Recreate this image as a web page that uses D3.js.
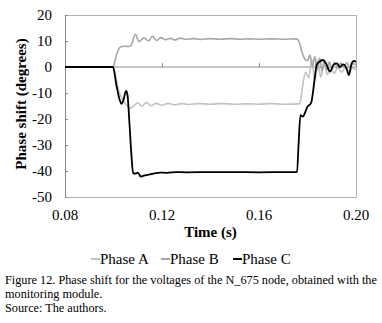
<!DOCTYPE html>
<html>
<head>
<meta charset="utf-8">
<script src="https://cdn.jsdelivr.net/npm/d3@7"></script>
<style>
  body { margin: 0; background: #fff; }
  text { font-family: "Liberation Serif", "Times New Roman", serif; fill: #000; }
</style>
</head>
<body>
<div id="phase_shift_chart"></div>
<script>
// values
var timeA = [0.080, 0.0998, 0.1010, 0.1019, 0.1039, 0.1060, 0.1068, 0.1085, 0.1100, 0.1118, 0.1135, 0.1155, 0.1175, 0.1200, 0.1225, 0.1250, 0.1280, 0.1310, 0.1350, 0.1400, 0.1450, 0.1500, 0.1550, 0.1600, 0.1650, 0.1700, 0.1765, 0.1772, 0.1782, 0.1792, 0.1805, 0.1818, 0.1830, 0.1842, 0.1855, 0.1868, 0.1882, 0.1895, 0.1910, 0.1925, 0.1940, 0.1955, 0.1970, 0.1985, 0.2000];
var phaseA = [0, 0, -4, -8.2, -12.8, -15.2, -15.9, -14.8, -13.8, -15.0, -13.6, -14.9, -14.0, -14.7, -14.0, -14.5, -14.1, -14.4, -14.1, -14.3, -14.1, -14.3, -14.2, -14.3, -14.1, -14.3, -14.2, -12.5, -6, -2, -4.2, 2.7, -5, 2.7, -4, 1.5, -3, 0.5, -2.5, 0, -2, -0.5, -1.5, -0.5, -1];

var timeB = [0.080, 0.0998, 0.1005, 0.1015, 0.1030, 0.1045, 0.1062, 0.1072, 0.1090, 0.1105, 0.1125, 0.1145, 0.1160, 0.1178, 0.1195, 0.1215, 0.1235, 0.1255, 0.1275, 0.1300, 0.1330, 0.1360, 0.1400, 0.1440, 0.1480, 0.1520, 0.1560, 0.1600, 0.1650, 0.1700, 0.1755, 0.1765, 0.1778, 0.1790, 0.1800, 0.1810, 0.1820, 0.1830, 0.1840, 0.1850, 0.1860, 0.1870, 0.1880, 0.1890, 0.1900, 0.1912, 0.1925, 0.1937, 0.1950, 0.1962, 0.1975, 0.1988, 0.2000];
var phaseB = [0, 0, 2, 5.5, 7.8, 8, 7.9, 8.2, 12.6, 9.8, 11.2, 10.1, 11.8, 10.2, 11.3, 10.5, 11.0, 10.4, 11.1, 10.6, 10.9, 10.6, 10.9, 10.7, 10.9, 10.7, 10.8, 10.7, 10.8, 10.7, 10.8, 9.8, 5.5, 3.0, 2.4, 4.6, 0.2, 4.0, -1.0, 3.4, -1.5, 2.8, -1.2, 2.0, -0.8, 1.8, -0.5, 1.5, 0.0, 1.6, -0.4, 1.2, 1.0];

var timeC = [0.080, 0.0998, 0.1012, 0.1025, 0.1033, 0.1040, 0.1052, 0.1058, 0.1066, 0.1074, 0.1081, 0.1092, 0.1101, 0.1112, 0.1125, 0.1140, 0.1151, 0.1170, 0.1192, 0.1220, 0.1260, 0.1300, 0.1400, 0.1500, 0.1600, 0.1700, 0.1757, 0.1763, 0.1771, 0.1780, 0.1800, 0.1815, 0.1829, 0.1838, 0.1849, 0.1862, 0.1876, 0.1893, 0.1907, 0.1921, 0.1934, 0.1946, 0.1961, 0.1971, 0.1982, 0.1991, 0.2000];
var phaseC = [0, 0, -7, -12.5, -14.2, -13, -9.2, -11, -22, -34, -40.8, -41, -40.6, -42.2, -41.8, -41.5, -41.3, -40.9, -40.6, -40.7, -40.4, -40.5, -40.4, -40.4, -40.5, -40.4, -40.4, -30, -18.5, -19.1, -15.3, -13.8, -5, 0.8, 2, 2.7, 1.4, -1.8, 0.8, 1.4, 0, 1, -0.5, -3.1, 1.4, 2.3, 2];

var xTicks = [0.08, 0.12, 0.16, 0.20];
var yTicks = [20, 10, 0, -10, -20, -30, -40, -50];
var seriesNames = ["Phase A", "Phase B", "Phase C"];
var captionLines = [
  "Figure 12. Phase shift for the voltages of the N_675 node, obtained with the",
  "monitoring module.",
  "Source: The authors."
];

var margin = {left: 65, right: 26, top: 15, bottom: 126};
var totalW = 382, totalH = 323;
var width = totalW - margin.left - margin.right;
var height = totalH - margin.top - margin.bottom;

var svg = d3.select("#phase_shift_chart").append("svg")
    .attr("width", totalW)
    .attr("height", totalH);

var g = svg.append("g")
    .attr("transform", "translate(" + margin.left + "," + margin.top + ")");

var x = d3.scaleLinear().domain([0.08, 0.20]).range([0, width]);
var y = d3.scaleLinear().domain([-50, 20]).range([height, 0]);

// plot area border
g.append("rect")
    .attr("x", 0).attr("y", 0)
    .attr("width", width).attr("height", height)
    .attr("fill", "none")
    .attr("stroke", "#b3b3b3")
    .attr("stroke-width", 1)
    .attr("shape-rendering", "crispEdges");

// y axis (ticks pointing into the plot), plain hyphen for negatives
var yAxis = d3.axisLeft(y).tickValues(yTicks).tickSize(-3).tickPadding(13)
    .tickFormat(function(d) { return String(d); });
var yg = g.append("g").call(yAxis);
yg.select(".domain").attr("stroke", "#8c8c8c");
yg.selectAll(".tick line").attr("stroke", "#8c8c8c");
yg.selectAll(".tick text").style("font-size", "15px").attr("fill", "#000");

// x axis line crosses at 0, labels along the bottom
var xg = g.append("g").attr("transform", "translate(0," + y(0) + ")")
    .call(d3.axisTop(x).tickValues(xTicks).tickSize(4).tickFormat(""));
xg.select(".domain").attr("stroke", "#8c8c8c").attr("d", "M0,0H" + width);
xg.selectAll(".tick line").attr("stroke", "#8c8c8c");

g.selectAll(".xlabel")
    .data(xTicks)
  .enter().append("text")
    .attr("class", "xlabel")
    .attr("x", function(d) { return x(d); })
    .attr("y", height + 23)
    .attr("text-anchor", "middle")
    .style("font-size", "15px")
    .text(function(d) { return d3.format(".2f")(d); });

// series
var line = d3.line()
    .x(function(d) { return x(d[0]); })
    .y(function(d) { return y(d[1]); })
    .curve(d3.curveMonotoneX);

var series = [
  {name: seriesNames[0], t: timeA, v: phaseA, color: "#c3c3c3", w: 1.6},
  {name: seriesNames[1], t: timeB, v: phaseB, color: "#a6a6a6", w: 1.6},
  {name: seriesNames[2], t: timeC, v: phaseC, color: "#000000", w: 1.8}
];

series.forEach(function(s) {
  g.append("path")
      .datum(d3.zip(s.t, s.v))
      .attr("fill", "none")
      .attr("stroke", s.color)
      .attr("stroke-width", s.w)
      .attr("stroke-linejoin", "round")
      .attr("d", line);
});

// axis titles
svg.append("text")
    .attr("transform", "translate(21," + 104 + ") rotate(-90)")
    .attr("text-anchor", "middle")
    .attr("dy", "0.35em")
    .style("font-size", "15px")
    .style("font-weight", "bold")
    .text("Phase shift (degrees)");

svg.append("text")
    .attr("x", margin.left + width / 2)
    .attr("y", 237)
    .attr("text-anchor", "middle")
    .style("font-size", "15px")
    .style("font-weight", "bold")
    .text("Time (s)");

// legend
var legendX = [91, 161, 233];
var legend = svg.selectAll(".legend")
    .data(series)
  .enter().append("g")
    .attr("class", "legend")
    .attr("transform", function(d, i) { return "translate(" + legendX[i] + ",259)"; });
legend.append("line")
    .attr("x1", 0).attr("x2", 9)
    .attr("y1", 0).attr("y2", 0)
    .attr("stroke", function(d) { return d.color; })
    .attr("stroke-width", 2);
legend.append("text")
    .attr("x", 9)
    .attr("y", 5)
    .style("font-size", "15px")
    .text(function(d) { return d.name; });

// caption
svg.selectAll(".caption")
    .data(captionLines)
  .enter().append("text")
    .attr("class", "caption")
    .attr("x", 5)
    .attr("y", function(d, i) { return 284 + i * 14; })
    .style("font-size", "12.25px")
    .text(function(d) { return d; });
</script>
</body>
</html>
